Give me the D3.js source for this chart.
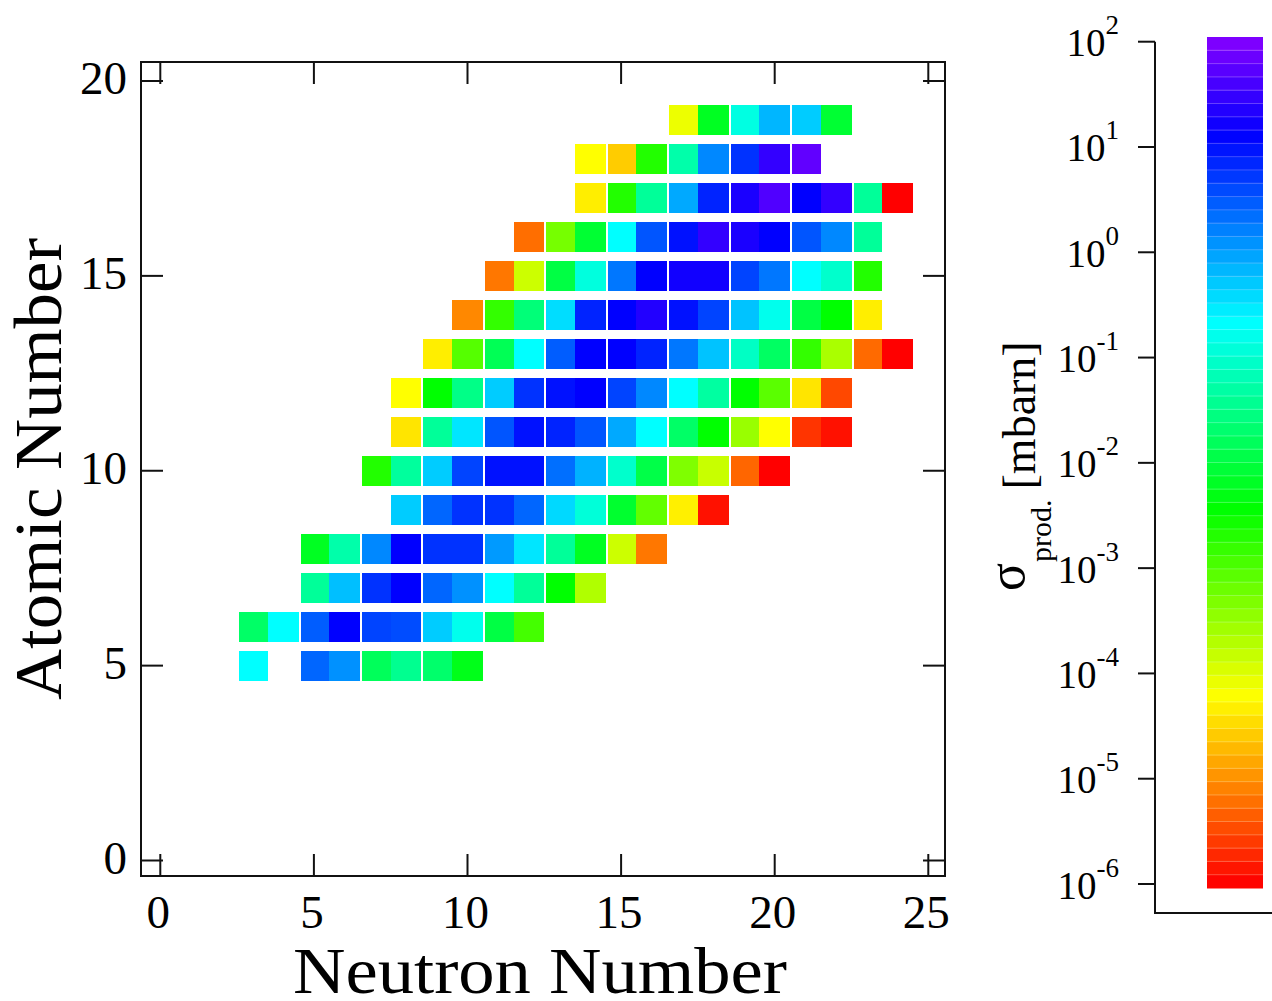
<!DOCTYPE html>
<html>
<head>
<meta charset="utf-8">
<script src="https://cdn.jsdelivr.net/npm/d3@7/dist/d3.min.js"></script>
<style>
  html, body { margin: 0; padding: 0; background: #fff; }
  svg { display: block; }
  text { font-family: "Liberation Serif", "DejaVu Serif", serif; fill: #000; }
</style>
</head>
<body>
<svg id="chart" width="1272" height="1001"></svg>
<script>
// ---- data (log10 of production cross-section in mbarn) ----
const atomicNumbers = [5, 6, 7, 8, 9, 10, 11, 12, 13, 14, 15, 16, 17, 18, 19];
const firstNeutron  = [3, 3, 5, 5, 8, 7, 8, 8, 9, 10, 11, 12, 14, 14, 17];
const logSigmaZ5  = [-0.67, null, 0.40, 0.10, -1.82, -1.44, -1.70, -2.27];
const logSigmaZ6  = [-1.73, -0.67, 0.46, 1.11, 0.64, 0.58, -0.31, -0.79, -1.97, -2.92];
const logSigmaZ7  = [-1.38, -0.22, 0.76, 1.11, 0.40, 0.10, -0.67, -1.38, -2.44, -3.67];
const logSigmaZ8  = [-2.21, -1.26, 0.16, 1.11, 0.76, 0.76, 0.04, -0.49, -1.38, -2.21, -3.87, -5.17];
const logSigmaZ9  = [-0.31, 0.40, 0.76, 0.76, 0.40, -0.40, -0.93, -2.12, -3.13, -4.33, -5.88];
const logSigmaZ10 = [-2.68, -1.35, -0.31, 0.64, 0.99, 0.99, 0.34, -0.13, -1.02, -1.94, -3.33, -3.84, -5.29, -6.00];
const logSigmaZ11 = [-4.40, -1.38, -0.49, 0.52, 0.99, 0.87, 0.52, -0.07, -0.67, -1.73, -2.44, -3.51, -4.22, -5.64, -5.88];
const logSigmaZ12 = [-4.22, -2.44, -1.50, -0.31, 0.76, 0.99, 1.11, 0.64, 0.16, -0.67, -1.32, -2.44, -3.07, -4.40, -5.50];
const logSigmaZ13 = [-4.34, -3.04, -1.85, -0.67, 0.46, 1.11, 1.11, 0.87, 0.28, -0.25, -1.08, -1.76, -2.80, -3.63, -5.26, -6.00];
const logSigmaZ14 = [-5.05, -2.80, -1.61, -0.43, 0.87, 1.11, 1.35, 0.99, 0.64, -0.25, -0.79, -1.97, -2.44, -4.34];
const logSigmaZ15 = [-5.17, -3.87, -1.97, -0.90, 0.28, 1.11, 1.23, 1.23, 0.64, 0.28, -0.67, -1.02, -2.68];
const logSigmaZ16 = [-5.23, -3.27, -2.09, -0.67, 0.52, 0.99, 1.47, 1.29, 1.11, 0.52, 0.16, -1.38];
const logSigmaZ17 = [-4.34, -2.68, -1.38, -0.07, 0.87, 1.29, 1.67, 1.11, 1.47, -1.38, -6.00];
const logSigmaZ18 = [-4.22, -4.58, -2.68, -1.26, 0.16, 0.76, 1.47, 1.79];
const logSigmaZ19 = [-4.10, -2.21, -0.87, -0.16, -0.31, -2.09];

const neutronTicks = [0, 5, 10, 15, 20, 25];
const atomicTicks = [0, 5, 10, 15, 20];
const sigmaTickExponents = [-6, -5, -4, -3, -2, -1, 0, 1, 2];

const xLabel = "Neutron Number";
const yLabel = "Atomic Number";

// ---- build table ----
const rowsLog = [logSigmaZ5, logSigmaZ6, logSigmaZ7, logSigmaZ8, logSigmaZ9, logSigmaZ10,
  logSigmaZ11, logSigmaZ12, logSigmaZ13, logSigmaZ14, logSigmaZ15, logSigmaZ16,
  logSigmaZ17, logSigmaZ18, logSigmaZ19];
const cells = [];
atomicNumbers.forEach((z, i) => {
  rowsLog[i].forEach((lv, j) => {
    if (lv === null) return;
    cells.push({ z: z, n: firstNeutron[i] + j, sigma: Math.pow(10, lv) });
  });
});

// ---- scales ----
const svg = d3.select("#chart");
const frame = { left: 141, right: 945, top: 62, bottom: 876 };
const x = d3.scaleLinear().domain([0, 25]).range([160.3, 928.3]);
const y = d3.scaleLinear().domain([0, 20]).range([860.5, 81]);
const hue = d3.scaleLog().domain([1e-6, 1e2]).range([0, 270]).clamp(true);
const color = s => d3.hsl(hue(s), 1, 0.5).toString();

// ---- cells ----
const halfH = 0.385;
svg.append("g").selectAll("rect").data(cells).join("rect")
  .attr("x", d => x(d.n - 0.5) + (d.n % 2 === 1 ? 2 : 0))
  .attr("width", d => x(d.n + 0.5) - x(d.n - 0.5) - (d.n % 2 === 1 ? 2 : 0))
  .attr("y", d => y(d.z + halfH))
  .attr("height", d => y(d.z - halfH) - y(d.z + halfH))
  .attr("fill", d => color(d.sigma))
  .attr("shape-rendering", "crispEdges");

// ---- frame & ticks ----
const axG = svg.append("g").attr("stroke", "#111").attr("stroke-width", 2).attr("fill", "none");
axG.append("rect")
  .attr("x", frame.left).attr("y", frame.top)
  .attr("width", frame.right - frame.left).attr("height", frame.bottom - frame.top);
const tl = 22;
neutronTicks.forEach(t => {
  axG.append("line").attr("x1", x(t)).attr("x2", x(t)).attr("y1", frame.bottom).attr("y2", frame.bottom - tl);
  axG.append("line").attr("x1", x(t)).attr("x2", x(t)).attr("y1", frame.top).attr("y2", frame.top + tl);
});
atomicTicks.forEach(t => {
  axG.append("line").attr("x1", frame.left).attr("x2", frame.left + tl).attr("y1", y(t)).attr("y2", y(t));
  axG.append("line").attr("x1", frame.right).attr("x2", frame.right - tl).attr("y1", y(t)).attr("y2", y(t));
});

// tick labels
svg.append("g").selectAll("text").data(neutronTicks).join("text")
  .attr("x", d => x(d) - 2).attr("y", 928)
  .attr("text-anchor", "middle").attr("font-size", 47)
  .text(d => d);
svg.append("g").selectAll("text").data(atomicTicks).join("text")
  .attr("x", 127).attr("y", d => y(d) + 13)
  .attr("text-anchor", "end").attr("font-size", 47)
  .text(d => d);

// axis titles
svg.append("text")
  .attr("x", 540).attr("y", 993)
  .attr("text-anchor", "middle").attr("font-size", 66)
  .attr("textLength", 494).attr("lengthAdjust", "spacingAndGlyphs")
  .text(xLabel);
svg.append("text")
  .attr("transform", "translate(61,469) rotate(-90)")
  .attr("text-anchor", "middle").attr("font-size", 68)
  .attr("textLength", 462).attr("lengthAdjust", "spacingAndGlyphs")
  .text(yLabel);

// ---- colorbar ----
const cb = { x0: 1207, x1: 1263, y0: 37, y1: 888 };
const cy = d3.scaleLog().domain([1e-6, 1e2]).range([884, 41.7]);
const nBands = 64;
const bandH = (cb.y1 - cb.y0) / nBands;
const bands = d3.range(nBands);
svg.append("g").selectAll("rect").data(bands).join("rect")
  .attr("x", cb.x0).attr("width", cb.x1 - cb.x0)
  .attr("y", i => cb.y1 - (i + 1) * bandH)
  .attr("height", bandH + 0.5)
  .attr("fill", i => color(cy.invert(cb.y1 - (i + 0.5) * bandH)));
svg.append("g").selectAll("line").data(bands.slice(1)).join("line")
  .attr("x1", cb.x0).attr("x2", cb.x1)
  .attr("y1", i => cb.y1 - i * bandH).attr("y2", i => cb.y1 - i * bandH)
  .attr("stroke", "rgba(255,255,255,0.25)").attr("stroke-width", 1);

const cbAxisX = 1155;
const cbG = svg.append("g").attr("stroke", "#111").attr("stroke-width", 2).attr("fill", "none");
cbG.append("path").attr("d", `M${cbAxisX},${cy(1e2)}V913H1272`);
sigmaTickExponents.forEach(e => {
  cbG.append("line").attr("x1", cbAxisX - 17).attr("x2", cbAxisX)
    .attr("y1", cy(Math.pow(10, e))).attr("y2", cy(Math.pow(10, e)));
});
const cbLab = svg.append("g").selectAll("text").data(sigmaTickExponents).join("text")
  .attr("x", 1119).attr("y", e => cy(Math.pow(10, e)) + 14.5)
  .attr("text-anchor", "end").attr("font-size", 39);
cbLab.append("tspan").text("10");
cbLab.append("tspan").attr("dy", -22).attr("font-size", 27).text(e => String(e));

// colorbar title
const ct = svg.append("text")
  .attr("transform", "translate(1035,591) rotate(-90)")
  .attr("font-size", 46);
ct.append("tspan").attr("dy", -11).attr("font-size", 52).text("σ");
ct.append("tspan").attr("dy", 27).attr("dx", 1).attr("font-size", 30).text("prod.");
ct.append("tspan").attr("dy", -16).attr("dx", 10).text("[mbarn]");
</script>
</body>
</html>
